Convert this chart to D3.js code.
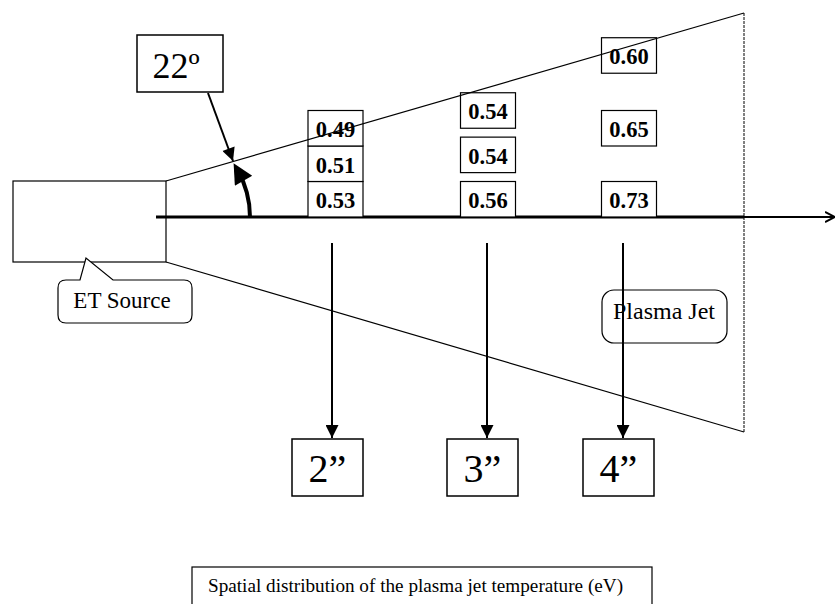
<!DOCTYPE html>
<html><head><meta charset="utf-8">
<script src="https://cdn.jsdelivr.net/npm/d3@7"></script>
<style>
html,body{margin:0;padding:0;background:#fff;}
text{font-family:"Liberation Serif","Times New Roman",serif;fill:#000;}
</style></head>
<body>
<svg id="c" width="837" height="604"></svg>
<script>
// ---- data ----
const distances = [2, 3, 4];
const distanceLabels = ["2\u201D", "3\u201D", "4\u201D"];
// temperature (eV) at each distance, from axis outward
const temps2 = [0.53, 0.51, 0.49];
const temps3 = [0.56, 0.54, 0.54];
const temps4 = [0.73, 0.65, 0.60];
// radial measurement slot (box units above the axis)
const slots2 = [0, 1, 2];
const slots3 = [0, 1.25, 2.5];
const slots4 = [0, 2, 4.05];
const angleLabel = "22\u00BA";
const sourceLabel = "ET Source";
const jetLabel = "Plasma Jet";
const title = "Spatial distribution of the plasma jet temperature (eV)";

const svg = d3.select("#c");
const x = d3.scaleLinear().domain([2, 3, 4]).range([335.5, 488, 629]);
const y = d3.scaleLinear().domain([0, 1]).range([217, 181.5]);
const axisY = y(0);

const defs = svg.append("defs");
defs.append("marker").attr("id","tri").attr("viewBox","0 0 10 10").attr("refX",10).attr("refY",5)
  .attr("markerWidth",14).attr("markerHeight",13).attr("markerUnits","userSpaceOnUse").attr("orient","auto")
  .append("path").attr("d","M0,0L10,5L0,10Z").attr("fill","#000");
defs.append("marker").attr("id","tri2").attr("viewBox","0 0 10 10").attr("refX",6).attr("refY",5)
  .attr("markerWidth",22).attr("markerHeight",20).attr("markerUnits","userSpaceOnUse").attr("orient","auto")
  .append("path").attr("d","M0,0L10,5L0,10Z").attr("fill","#000");
defs.append("marker").attr("id","chev").attr("viewBox","0 0 10 10").attr("refX",10).attr("refY",5)
  .attr("markerWidth",10).attr("markerHeight",12).attr("markerUnits","userSpaceOnUse").attr("orient","auto")
  .append("path").attr("d","M0,0L10,5L0,10").attr("fill","none").attr("stroke","#000").attr("stroke-width",2);

// cone
const src = {x0:13, x1:166, y0:181, y1:262};
const coneEndX = 744;
svg.append("line").attr("x1",src.x1).attr("y1",src.y1).attr("x2",coneEndX).attr("y2",432)
  .attr("stroke","#000").attr("stroke-width",1.2);
svg.append("line").attr("x1",coneEndX).attr("y1",13).attr("x2",coneEndX).attr("y2",432)
  .attr("stroke","#000").attr("stroke-width",1).attr("stroke-dasharray","3,1");

// source box
svg.append("rect").attr("x",src.x0).attr("y",src.y0).attr("width",src.x1-src.x0).attr("height",src.y1-src.y0)
  .attr("fill","#fff").attr("stroke","#000").attr("stroke-width",1.2);

// axis
svg.append("line").attr("x1",156).attr("y1",axisY).attr("x2",coneEndX).attr("y2",axisY)
  .attr("stroke","#000").attr("stroke-width",3);
svg.append("line").attr("x1",coneEndX).attr("y1",axisY).attr("x2",835).attr("y2",axisY)
  .attr("stroke","#000").attr("stroke-width",2).attr("marker-end","url(#chev)");

// angle arc
const cx = 156, r = 94;
const arcPath = d3.path();
arcPath.arc(cx, axisY, r, 0, -0.52, true);
svg.append("path").attr("d", arcPath.toString()).attr("fill","none").attr("stroke","#000")
  .attr("stroke-width",4).attr("marker-end","url(#tri2)");

// 22 deg label
svg.append("rect").attr("x",137).attr("y",35).attr("width",86).attr("height",57)
  .attr("fill","#fff").attr("stroke","#000").attr("stroke-width",1.5);
svg.append("text").attr("x",176).attr("y",78).attr("text-anchor","middle").attr("font-size",36).text(angleLabel);
svg.append("line").attr("x1",208).attr("y1",93).attr("x2",233).attr("y2",161)
  .attr("stroke","#000").attr("stroke-width",2).attr("marker-end","url(#tri)");

// value boxes
const cols = [
  {d: 2, temps: temps2, slots: slots2},
  {d: 3, temps: temps3, slots: slots3},
  {d: 4, temps: temps4, slots: slots4}
];
const bw = 55, bh = 35.5;
cols.forEach(c => {
  const g = svg.append("g");
  const cells = g.selectAll("g").data(c.temps.map((t,i)=>({t, s:c.slots[i]}))).enter().append("g");
  cells.append("rect")
    .attr("x", x(c.d) - bw/2).attr("y", d => y(d.s) - bh).attr("width", bw).attr("height", bh)
    .attr("fill","#fff").attr("stroke","#000").attr("stroke-width",1.2);
  cells.append("text")
    .attr("x", x(c.d)).attr("y", d => y(d.s) - 9).attr("text-anchor","middle")
    .attr("font-size",22.5).attr("font-weight","bold").text(d => d.t.toFixed(2));
});
// top cone line drawn over boxes (it crosses them)
svg.append("line").attr("x1",src.x1).attr("y1",src.y0).attr("x2",coneEndX).attr("y2",13)
  .attr("stroke","#000").attr("stroke-width",1.2);

// ET source callout
svg.append("path")
  .attr("d","M66,280 L80,280 L86,258 L113,280 L184,280 Q192,280 192,288 L192,315 Q192,323 184,323 L66,323 Q58,323 58,315 L58,288 Q58,280 66,280 Z")
  .attr("fill","#fff").attr("stroke","#000").attr("stroke-width",1.2);
svg.append("text").attr("x",122).attr("y",308).attr("text-anchor","middle").attr("font-size",23).text(sourceLabel);

// Plasma jet callout
svg.append("rect").attr("x",602).attr("y",290).attr("width",125).attr("height",53).attr("rx",12)
  .attr("fill","#fff").attr("stroke","#000").attr("stroke-width",1.2);
svg.append("text").attr("x",664).attr("y",319).attr("text-anchor","middle").attr("font-size",24).text(jetLabel);

// down arrows and distance labels
const arrowX = d3.scaleLinear().domain([2,3,4]).range([332, 487, 623]);
svg.selectAll(".dn").data(distances).enter().append("line")
  .attr("x1", d => arrowX(d)).attr("x2", d => arrowX(d)).attr("y1", 243).attr("y2", 438)
  .attr("stroke","#000").attr("stroke-width",2).attr("marker-end","url(#tri)");
const lbw = 71, lbh = 57;
svg.selectAll(".lb").data(distances).enter().append("rect")
  .attr("x", d => arrowX(d) - 40).attr("y", 439).attr("width", lbw).attr("height", lbh)
  .attr("fill","#fff").attr("stroke","#000").attr("stroke-width",1.5);
svg.selectAll(".lt").data(distances).enter().append("text")
  .attr("x", d => arrowX(d) - 4.5).attr("y", 482).attr("text-anchor","middle").attr("font-size",40)
  .text((d,i) => distanceLabels[i]);

// title box
svg.append("rect").attr("x",192).attr("y",567).attr("width",460).attr("height",45)
  .attr("fill","#fff").attr("stroke","#000").attr("stroke-width",1.2);
svg.append("text").attr("x",208).attr("y",592).attr("font-size",19.2).text(title);
</script>
</body></html>
